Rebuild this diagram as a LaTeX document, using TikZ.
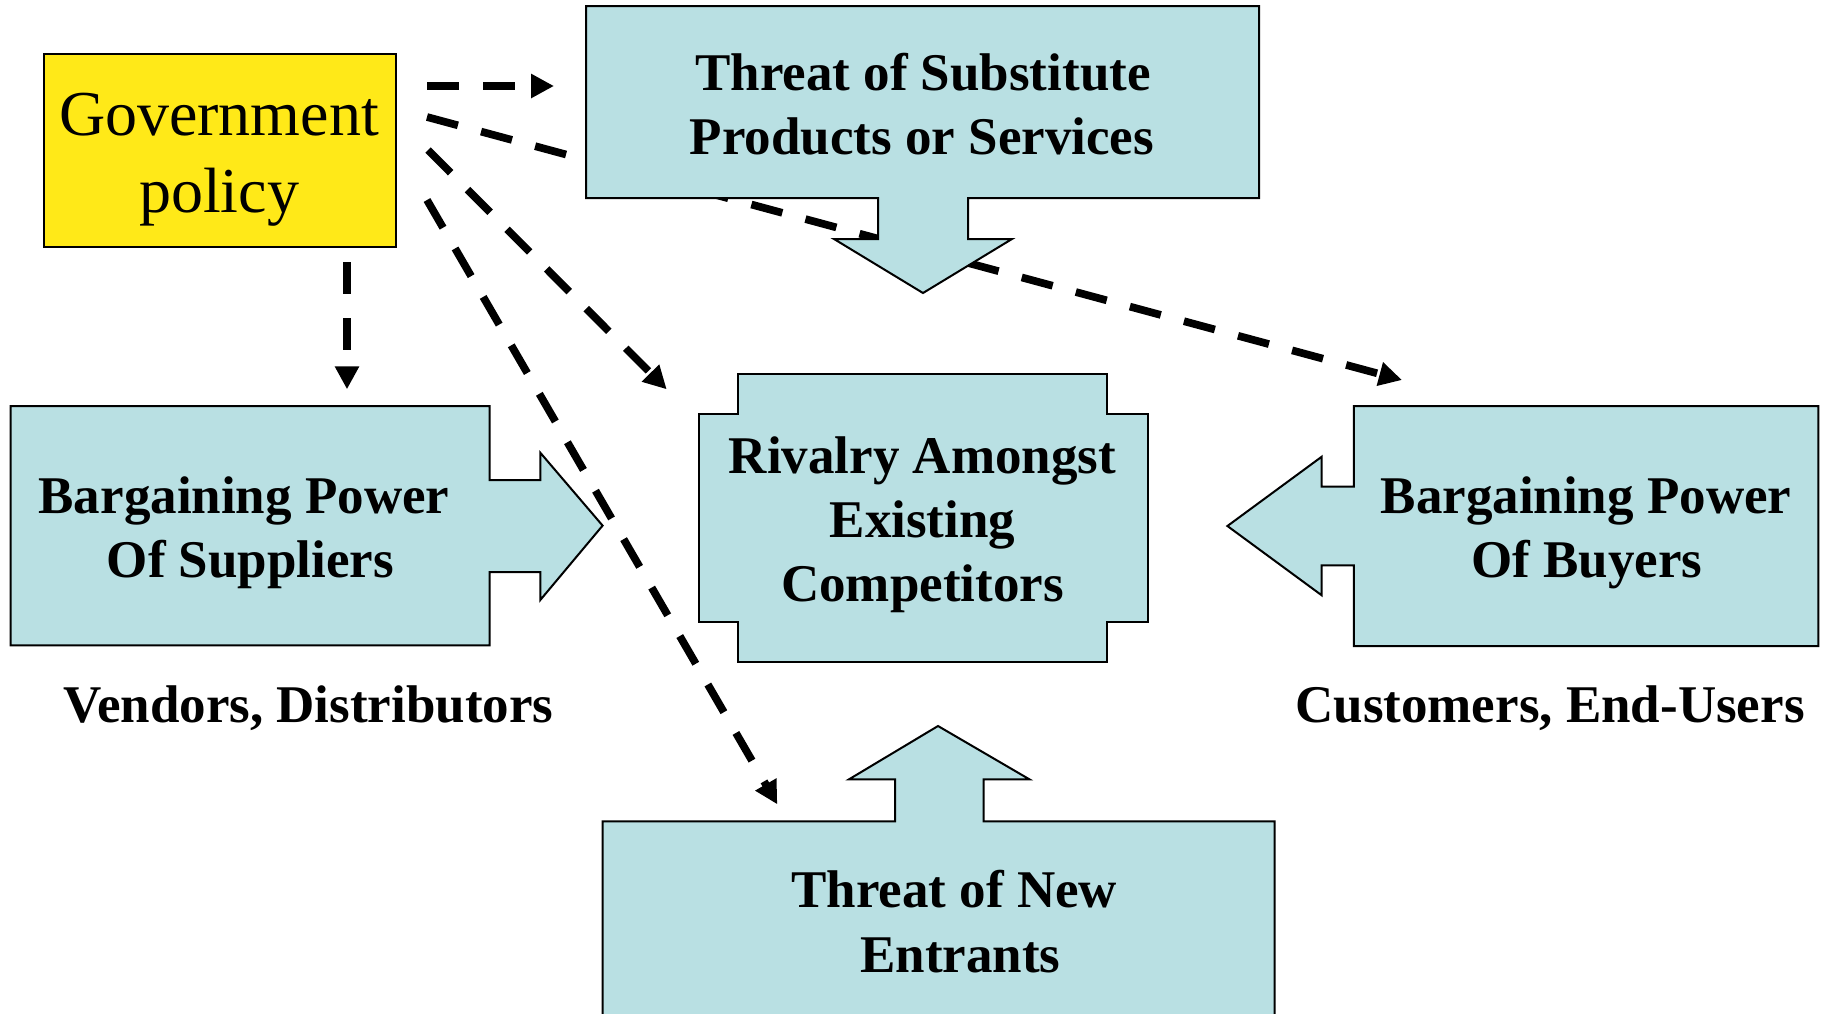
\documentclass[tikz,border=0pt]{standalone}
\usepackage{fontspec}
\setmainfont{Liberation Serif}
\usetikzlibrary{arrows.meta}
\definecolor{boxblue}{RGB}{185,224,227}
\definecolor{govyellow}{RGB}{255,233,24}
\begin{document}
\begin{tikzpicture}[x=1pt,y=-1pt,
  forcebox/.style={fill=boxblue,draw=black,line width=2pt,line join=miter},
  boldtext/.style={inner sep=0pt,anchor=base,font=\fontsize{53}{64}\selectfont\bfseries},
  govtext/.style={inner sep=0pt,anchor=base,font=\fontsize{64}{77}\selectfont},
  influence/.style={line width=7.7pt,dash pattern=on 32pt off 24pt,
    -{Triangle[length=23pt,width=23pt]}}]
\path[use as bounding box,clip] (0,0) rectangle (1827,1013);

% government policy box
\node[draw=black,fill=govyellow,line width=2pt,minimum width=352.8pt,minimum height=192.7pt,
  inner sep=0pt,anchor=north west] (gov) at (42.5,53.3) {};
\node[govtext] (govl1) at (219,135) {Government};
\node[govtext] (govl2) at (219,212) {policy};

% start and end points of the influence arrows
\coordinate (s1) at (427,86);   \coordinate (t1) at (554,86);
\coordinate (s2) at (427,117);  \coordinate (t2) at (1402,380);
\coordinate (s3) at (428,150);  \coordinate (t3) at (666.7,389.3);
\coordinate (s4) at (427,200);  \coordinate (t4) at (777.3,804.3);
\coordinate (s5) at (347,262);  \coordinate (t5) at (347,389.3);

\draw[influence] (s1) -- (t1);
\draw[influence] (s2) -- (t2);
\draw[influence] (s3) -- (t3);
\draw[influence] (s4) -- (t4);
\draw[influence] (s5) -- (t5);

% threat of substitutes (arrow down)
\draw[forcebox] (586,6) -- (1259,6) -- (1259,198) -- (968,198) -- (968,239) -- (1012,239)
  -- (923,293) -- (834,239) -- (878,239) -- (878,198) -- (586,198) -- cycle;
\node[boldtext] (sub1) at (923,90) {Threat of Substitute};
\node[boldtext] (sub2) at (922,154) {Products or Services};

% rivalry
\draw[forcebox] (738,374) -- (1107,374) -- (1107,414) -- (1148,414) -- (1148,622) -- (1107,622)
  -- (1107,662) -- (738,662) -- (738,622) -- (699,622) -- (699,414) -- (738,414) -- cycle;
\node[boldtext] (riv1) at (922.5,473.5) {Rivalry Amongst};
\node[boldtext] (riv2) at (922.5,537.5) {Existing};
\node[boldtext] (riv3) at (922.5,601.5) {Competitors};

% suppliers (arrow right)
\draw[forcebox] (10.5,406) -- (489.7,406) -- (489.7,480) -- (540.3,480) -- (540.3,452.7)
  -- (602.6,525.6) -- (540.3,600) -- (540.3,572) -- (489.7,572) -- (489.7,645.3)
  -- (10.5,645.3) -- cycle;
\node[boldtext] (sup1) at (244,513.5) {Bargaining Power};
\node[boldtext] (sup2) at (250.4,577.7) {Of Suppliers};

% buyers (arrow left)
\draw[forcebox] (1818.4,406) -- (1353.8,406) -- (1353.8,486.7) -- (1321.7,486.7) -- (1321.7,456.7)
  -- (1227.4,526) -- (1321.7,595.3) -- (1321.7,565.3) -- (1353.8,565.3) -- (1353.8,646)
  -- (1818.4,646) -- cycle;
\node[boldtext] (buy1) at (1586,513.5) {Bargaining Power};
\node[boldtext] (buy2) at (1587,577.7) {Of Buyers};

% new entrants (arrow up)
\draw[forcebox] (602.6,1040) -- (602.6,821.3) -- (895,821.3) -- (895,779.3) -- (849,779.3)
  -- (938,726) -- (1029.4,779.3) -- (983.5,779.3) -- (983.5,821.3) -- (1274.6,821.3)
  -- (1274.6,1040);
\node[boldtext] (new1) at (954.3,907.7) {Threat of New};
\node[boldtext] (new2) at (960.4,972.7) {Entrants};

% side labels
\node[boldtext] (vend) at (308.6,722.7) {Vendors, Distributors};
\node[boldtext] (cust) at (1550,722.7) {Customers, End-Users};
\end{tikzpicture}
\end{document}
